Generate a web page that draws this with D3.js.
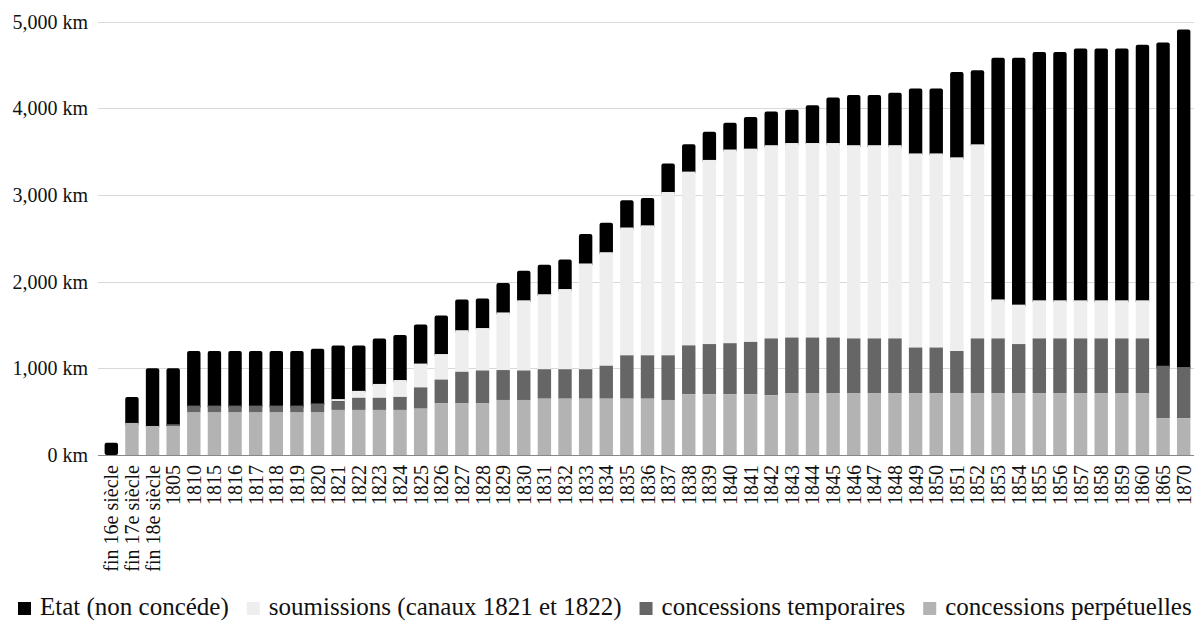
<!DOCTYPE html>
<html>
<head>
<meta charset="utf-8">
<script src="https://cdn.jsdelivr.net/npm/d3@7"></script>
<style>
  body { margin: 0; background: #fff; }
  text { font-family: "Liberation Serif", "Times New Roman", serif; fill: #111; }
</style>
</head>
<body>
<div id="chart"></div>
<script>
const WIDTH = 1194
const HEIGHT = 621

const categories = [
  "fin 16e siècle", "fin 17e siècle", "fin 18e siècle", "1805", "1810",
  "1815", "1816", "1817", "1818", "1819", "1820", "1821", "1822", "1823", "1824",
  "1825", "1826", "1827", "1828", "1829", "1830", "1831", "1832", "1833", "1834",
  "1835", "1836", "1837", "1838", "1839", "1840", "1841", "1842", "1843", "1844",
  "1845", "1846", "1847", "1848", "1849", "1850", "1851", "1852", "1853", "1854",
  "1855", "1856", "1857", "1858", "1859", "1860", "1865", "1870"
]

// km
const perpetuelles = [
  0, 370, 335, 335, 490,
  490, 490, 490, 490, 490, 490, 520, 520, 520, 520,
  535, 595, 595, 595, 635, 635, 650, 650, 650, 650,
  650, 650, 635, 700, 700, 700, 700, 690, 715, 715,
  715, 715, 715, 715, 715, 715, 715, 715, 715, 715,
  715, 715, 715, 715, 715, 715, 425, 425
]
const temporaires = [
  0, 0, 0, 20, 80,
  80, 80, 80, 80, 80, 105, 100, 140, 140, 150,
  245, 275, 365, 380, 345, 340, 340, 340, 340, 380,
  500, 500, 515, 565, 580, 590, 605, 655, 640, 640,
  640, 630, 630, 630, 525, 525, 485, 630, 630, 565,
  630, 630, 630, 630, 630, 630, 605, 590
]
const soumissions = [
  0, 0, 0, 0, 0,
  0, 0, 0, 0, 0, 0, 25, 80, 160, 195,
  275, 295, 480, 490, 665, 810, 865, 925, 1220, 1310,
  1475, 1500, 1885, 2005, 2125, 2235, 2230, 2230, 2245, 2245,
  2245, 2230, 2230, 2230, 2240, 2240, 2235, 2240, 450, 455,
  440, 440, 440, 440, 440, 440, 0, 0
]
const etat = [
  140, 300, 665, 645, 630,
  630, 630, 630, 630, 630, 630, 620, 525, 525, 520,
  450, 445, 355, 340, 340, 340, 340, 340, 340, 340,
  315, 315, 330, 315, 325, 310, 365, 390, 385, 435,
  525, 580, 580, 605, 750, 750, 985, 855, 2790, 2850,
  2865, 2865, 2905, 2905, 2905, 2950, 3730, 3895
]

const yTicks = [0, 1000, 2000, 3000, 4000, 5000]

const seriesNames = ["concessions perpétuelles", "concessions temporaires", "soumissions (canaux 1821 et 1822)", "Etat (non concéde)"]
const seriesKeys = ["perp", "temp", "soum", "etat"]
const seriesColors = ["#b3b3b3", "#666666", "#eeeeee", "#000000"]
const legendOrder = [3, 2, 1, 0]

const rows = categories.map((c, i) => ({
  cat: c, perp: perpetuelles[i], temp: temporaires[i], soum: soumissions[i], etat: etat[i]
}))

const stack = d3.stack().keys(seriesKeys)(rows)

const x = d3.scaleBand()
  .domain(categories)
  .range([101, 1194])
  .paddingInner(0.35)
  .paddingOuter(0.175)

const y = d3.scaleLinear()
  .domain([0, 5000])
  .range([455, 21.7])

const svg = d3.select("#chart")
  .append("svg")
  .attr("width", WIDTH)
  .attr("height", HEIGHT)

// grid
svg.append("g")
  .selectAll("line")
  .data(yTicks.filter(t => t > 0))
  .join("line")
  .attr("x1", 98)
  .attr("x2", WIDTH)
  .attr("y1", d => Math.round(y(d)) + 0.5)
  .attr("y2", d => Math.round(y(d)) + 0.5)
  .attr("stroke", "#d9d9d9")
  .attr("stroke-width", 1)

// y labels
svg.append("g")
  .selectAll("text")
  .data(yTicks)
  .join("text")
  .attr("x", 88)
  .attr("y", d => y(d))
  .attr("dy", "0.35em")
  .attr("text-anchor", "end")
  .style("font-size", "20px")
  .text(d => d3.format(",")(d) + " km")

// bars, top layer first so its rounded bottom is hidden under the next one
const layers = svg.append("g")
  .selectAll("g")
  .data(stack.slice().reverse())
  .join("g")
  .attr("fill", d => seriesColors[seriesKeys.indexOf(d.key)])

layers.selectAll("rect")
  .data(d => d.map(v => Object.assign(v, { key: d.key })))
  .join("rect")
  .attr("x", d => x(d.data.cat))
  .attr("width", x.bandwidth())
  .attr("y", d => y(d[1]))
  .attr("height", d => {
    const h = y(d[0]) - y(d[1])
    return d.key === "etat" && d[0] > 0 ? h + 3 : Math.max(0, h)
  })
  .attr("rx", d => d.key === "etat" ? 2 : 0)

// baseline
svg.append("line")
  .attr("x1", 98)
  .attr("x2", WIDTH)
  .attr("y1", y(0) + 0.5)
  .attr("y2", y(0) + 0.5)
  .attr("stroke", "#888")
  .attr("stroke-width", 1)

// x labels
svg.append("g")
  .selectAll("text")
  .data(categories)
  .join("text")
  .attr("transform", d => `translate(${x(d) + x.bandwidth() / 2},465) rotate(-90)`)
  .attr("dy", "0.35em")
  .attr("text-anchor", "end")
  .style("font-size", "20px")
  .text(d => d)

// legend
const legend = svg.append("g")
const items = legend.selectAll("g")
  .data(legendOrder)
  .join("g")

items.append("rect")
  .attr("width", 13)
  .attr("height", 13)
  .attr("y", 602)
  .attr("fill", i => seriesColors[i])

items.append("text")
  .attr("x", 22)
  .attr("y", 615)
  .style("font-size", "25px")
  .text(i => seriesNames[i])

let pos = 18
items.each(function () {
  const w = d3.select(this).select("text").node().getComputedTextLength()
  d3.select(this).attr("transform", `translate(${pos},0)`)
  pos += 22 + w + 18
})
</script>
</body>
</html>
